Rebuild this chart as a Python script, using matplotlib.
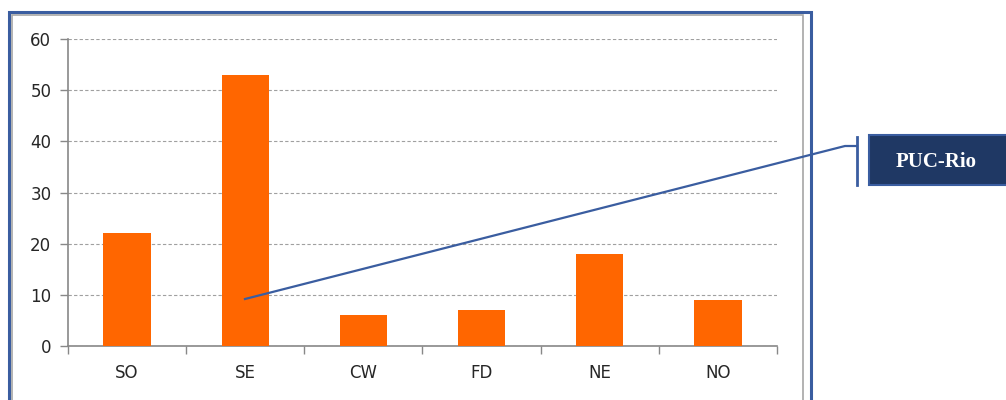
import matplotlib
matplotlib.use("Agg")
import matplotlib.pyplot as plt
from matplotlib.patches import Rectangle
from matplotlib.lines import Line2D

regions = ["SO", "SE", "CW", "FD", "NE", "NO"]
counts = [22, 53, 6, 7, 18, 9]
yticks = [0, 10, 20, 30, 40, 50, 60]

W, H = 1006, 400
ORANGE = "#FF6600"
BLUE = "#3A5DA0"
NAVY = "#1F3864"


def fx(px):
    return px / W


def fy(py):
    return 1 - py / H


fig = plt.figure(figsize=(W / 100, H / 100), dpi=100)
fig.patch.set_facecolor("white")

# outer frames (blue + grey) running off the bottom
fig.add_artist(Rectangle((fx(9), fy(420)), fx(811) - fx(9), fy(12) - fy(420),
                         transform=fig.transFigure, fill=False,
                         edgecolor=BLUE, linewidth=2.2))
fig.add_artist(Rectangle((fx(12), fy(420)), fx(803) - fx(12), fy(15) - fy(420),
                         transform=fig.transFigure, fill=False,
                         edgecolor="#A6A6A6", linewidth=1.2))

ax = fig.add_axes([fx(68), fy(346), fx(777) - fx(68), fy(39) - fy(346)])
x = list(range(len(regions)))
ax.bar(x, counts, width=0.4, color=ORANGE, zorder=3)

ax.set_xlim(-0.5, len(regions) - 0.5)
ax.set_ylim(0, 60)
ax.set_yticks(yticks)
ax.set_xticks(x)
ax.set_xticklabels(regions)
ax.set_xticks([i - 0.5 for i in range(len(regions) + 1)], minor=True)
ax.tick_params(axis="x", which="major", length=0, pad=13, labelsize=12,
               labelcolor="#262626")
ax.tick_params(axis="x", which="minor", length=6, color="#888888", width=1)
ax.tick_params(axis="y", length=6, color="#888888", width=1, labelsize=12,
               labelcolor="#262626", pad=6)

ax.grid(axis="y", linestyle=(0, (3, 2)), color="#A0A0A0", linewidth=0.8, zorder=0)
for s in ["top", "right"]:
    ax.spines[s].set_visible(False)
for s in ["left", "bottom"]:
    ax.spines[s].set_color("#888888")
    ax.spines[s].set_linewidth(1.2)

# callout from SE bar to the PUC-Rio label
fig.add_artist(Line2D([fx(245), fx(845), fx(857)], [fy(299), fy(146), fy(146)],
                      transform=fig.transFigure, color=BLUE, linewidth=1.6))
fig.add_artist(Line2D([fx(857), fx(857)], [fy(137), fy(185)],
                      transform=fig.transFigure, color=BLUE, linewidth=2))
fig.add_artist(Rectangle((fx(869), fy(185)), fx(1010) - fx(869), fy(135) - fy(185),
                         transform=fig.transFigure, facecolor=NAVY,
                         edgecolor=BLUE, linewidth=1.5))
fig.text(fx(936), fy(162), "PUC-Rio", color="white", fontsize=15,
         fontweight="bold", family="Liberation Serif", ha="center", va="center")

fig.savefig("out.png", dpi=100)
